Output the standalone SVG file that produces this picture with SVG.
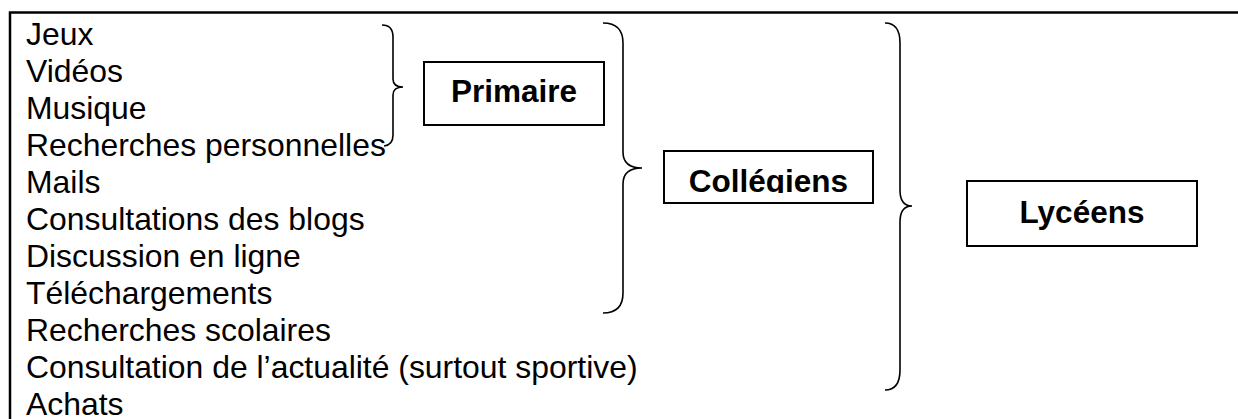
<svg xmlns="http://www.w3.org/2000/svg" width="1238" height="419" viewBox="0 0 1238 419">
<style>
.item{font-family:"Liberation Sans",Arial,sans-serif;font-size:31.9px;fill:#000}
.lab{font-family:"Liberation Sans",Arial,sans-serif;font-size:31.5px;font-weight:bold;fill:#000;text-anchor:middle}
.box{fill:#fff;stroke:#000;stroke-width:2}
.brace{fill:none;stroke:#000;stroke-width:1.6}
.frame{fill:none;stroke:#000;stroke-width:2.5}
</style>
<defs>
<clipPath id="clipCol"><rect x="664" y="151" width="209" height="42"/></clipPath>
</defs>
<rect width="1238" height="419" fill="#fff"/>
<g id="frame">
<path class="frame" d="M10,419 L10,12.5 L1238,12.5"/>
</g>
<g id="list">
<text class="item" x="26" y="45">Jeux</text>
<text class="item" x="26" y="81.95">Vidéos</text>
<text class="item" x="26" y="118.9">Musique</text>
<text class="item" x="26" y="155.85">Recherches personnelles</text>
<text class="item" x="26" y="192.8">Mails</text>
<text class="item" x="26" y="229.75">Consultations des blogs</text>
<text class="item" x="26" y="266.7">Discussion en ligne</text>
<text class="item" x="26" y="303.65">Téléchargements</text>
<text class="item" x="26" y="340.6">Recherches scolaires</text>
<text class="item" x="26" y="377.55">Consultation de l’actualité (surtout sportive)</text>
<text class="item" x="26" y="414.5">Achats</text>
</g>
<g id="connectors">
<path class="brace" d="M382,25 Q393,25 393,37 L393,79 Q393,87 403,87 Q393,87 393,95 L393,135 Q393,145 384,146"/>
<path class="brace" d="M603,23 Q623,23 623,43 L623,152 Q623,168 642,168 Q623,168 623,184 L623,293 Q623,313 603,313"/>
<path class="brace" d="M885,23 Q900,23 900,43 L900,190 Q900,206 912,206 Q900,206 900,222 L900,370 Q900,390 885,390"/>
</g>
<g id="primaire">
<rect class="box" x="424" y="62" width="180" height="63"/>
<text class="lab" x="514" y="102">Primaire</text>
</g>
<g id="collegiens">
<rect class="box" x="664" y="151" width="209" height="52"/>
<text class="lab" x="768.5" y="192" clip-path="url(#clipCol)">Collégiens</text>
</g>
<g id="lyceens">
<rect class="box" x="967" y="181" width="230" height="65"/>
<text class="lab" x="1082" y="223">Lycéens</text>
</g>
</svg>
